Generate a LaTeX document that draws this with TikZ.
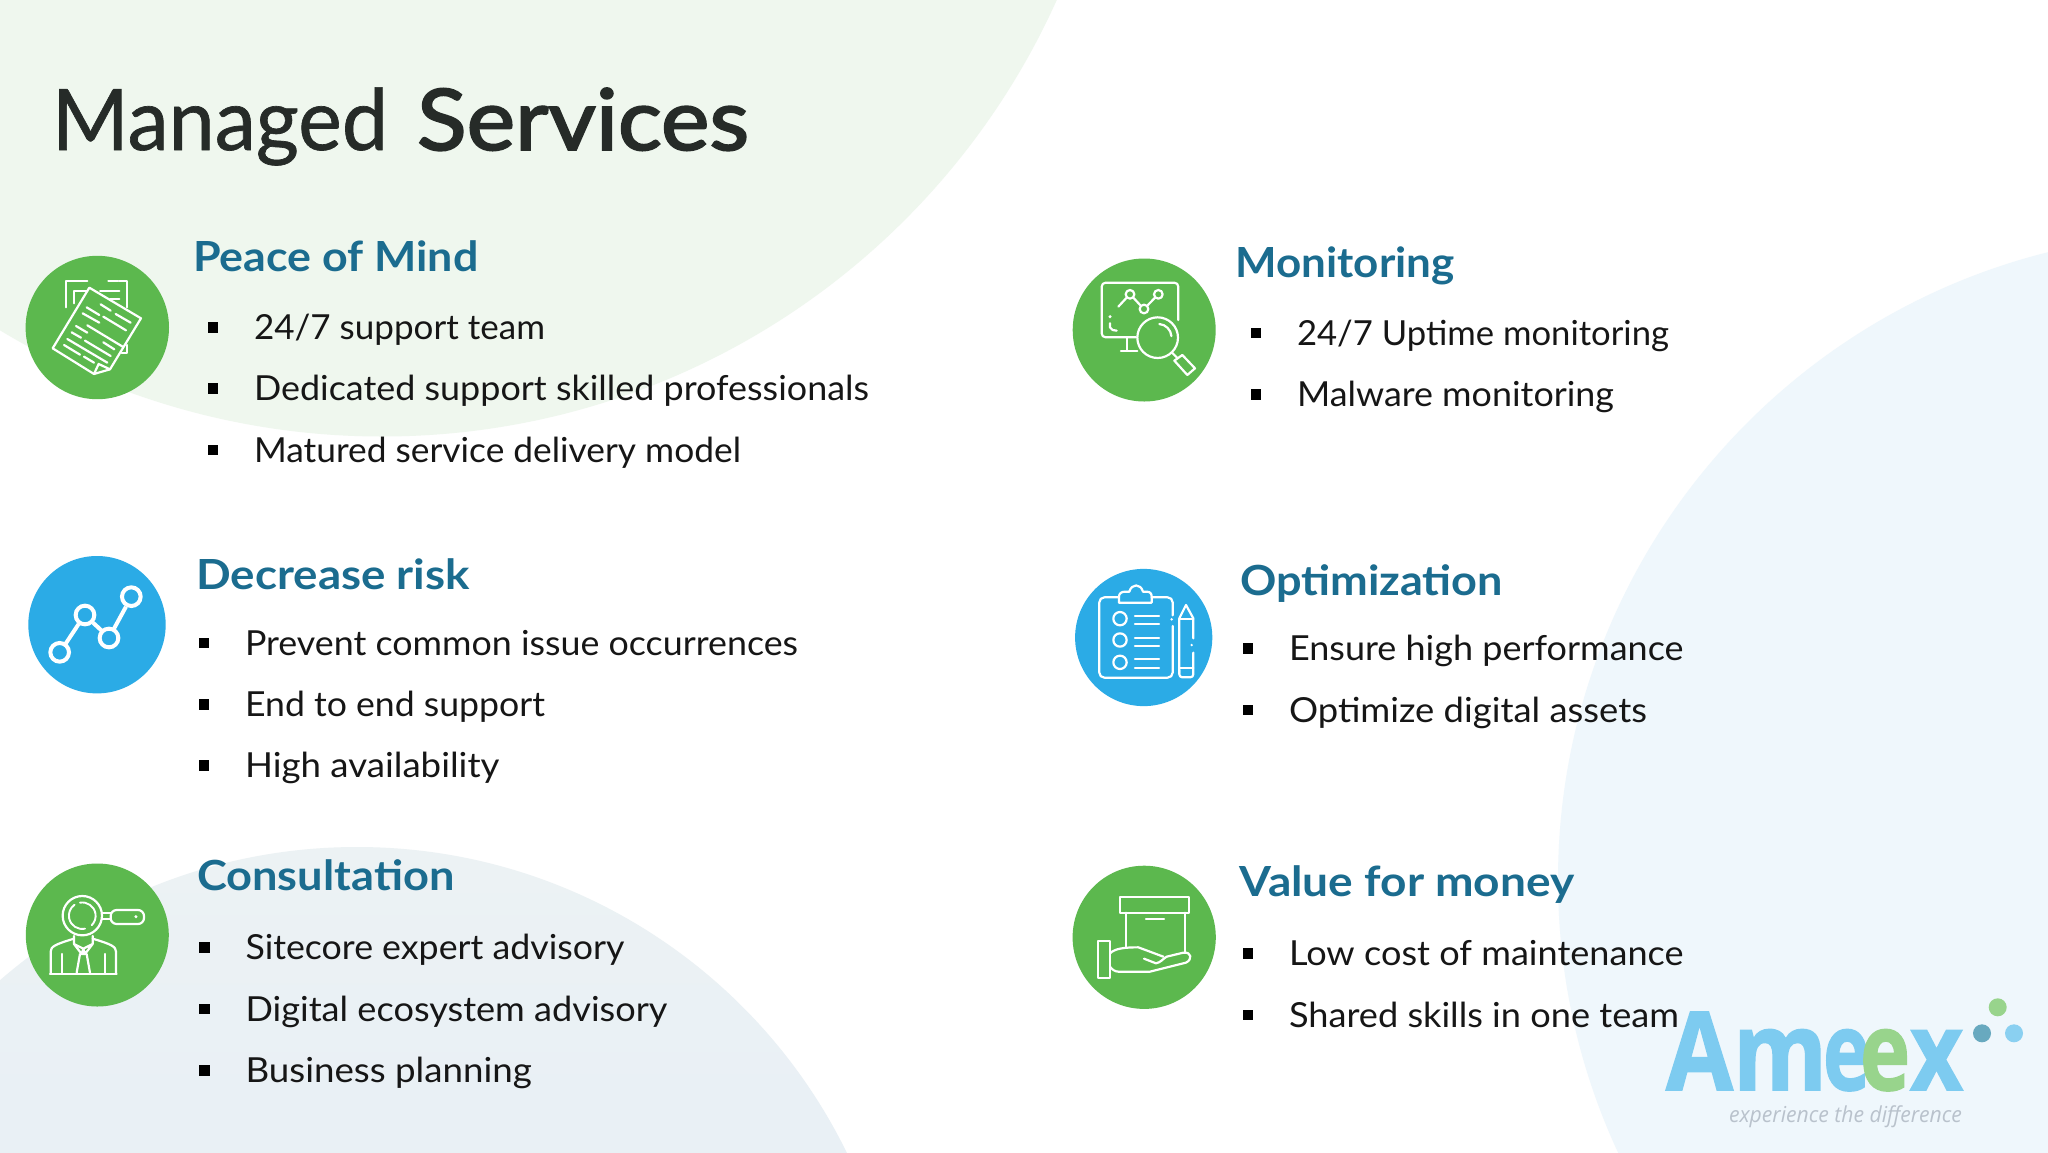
\documentclass[tikz,border=0pt]{standalone}
\usepackage{graphicx}
\usepackage{fontspec}
\setmainfont{Lato}
\newfontfamily\logofont{Open Sans}
\newfontfamily\logobold[BoldFeatures={FakeBold=1.5}]{Open Sans}
\definecolor{bgGreen}{HTML}{EFF7EE}
\definecolor{bgSlateTop}{HTML}{ECF2F4}
\definecolor{bgSlate}{HTML}{E0EAF8}
\definecolor{bgBlue}{HTML}{EFF7FC}
\definecolor{iconGreen}{HTML}{5CB84E}
\definecolor{iconBlue}{HTML}{2BABE6}
\definecolor{headTeal}{HTML}{1B6C8F}
\definecolor{titleInk}{HTML}{262B28}
\definecolor{bodyInk}{HTML}{161616}
\definecolor{logoBlue}{HTML}{7DCBF0}
\definecolor{logoGreen}{HTML}{98D48C}
\definecolor{logoDark}{HTML}{68A9BF}
\definecolor{logoGrey}{HTML}{B9C2CC}
\newsavebox\fitbox
\newcommand\fitw[2]{\sbox\fitbox{#2}\pgfmathsetmacro\fitsc{#1/\wd\fitbox}\scalebox{\fitsc}[1]{\usebox\fitbox}}
\newfontfamily\titlemid[FakeBold=0.8]{Lato}
\newfontfamily\titlebold[FakeBold=2.2]{Lato}
\usetikzlibrary{calc}
\tikzset{
  txt/.style={inner sep=0pt,outer sep=0pt,anchor=base west},
  ico/.style={draw=white,line width=2.2pt,line cap=round,line join=round},
  thin ico/.style={draw=white,line width=1.9pt,line cap=round,line join=round},
  badge/.style={circle,inner sep=0pt,minimum size=#1}
}
% name, x, baseline, width, text
\newcommand\svcitem[5]{\node[txt,text=bodyInk] (#1) at (#2,#3) {\fitw{#4}{\fontsize{34.5}{40}\selectfont #5}};
  \fill[black] ($(#1.base west)+(-41pt,12pt)$) ++(-5.2pt,-5.2pt) rectangle ++(10.4pt,10.4pt);}
\newcommand\svchead[5]{\node[txt,text=headTeal] (#1) at (#2,#3) {\fitw{#4}{\fontsize{41.5}{46}\selectfont\bfseries #5}};}
\begin{document}
\begin{tikzpicture}[x=1pt,y=-1pt]
\useasboundingbox (0,0) rectangle (2048,1152);
\clip (0,0) rectangle (2048,1152);
% background discs
\fill[white] (0,0) rectangle (2048,1152);
\fill[bgGreen] (382,-303) circle[radius=739.5];
\shade[top color=bgSlateTop,bottom color=bgSlate] (357,1392) circle[radius=545];
\fill[bgBlue] (2205,880) circle[radius=647];
% title
\node[txt,text=titleInk] (titleA) at (52,150) {\fitw{336}{\fontsize{85}{90}\titlemid Managed}};
\node[txt,text=titleInk] (titleB) at (417,150) {\fitw{332}{\fontsize{85}{90}\titlebold Services}};
% badges
\node[badge=143.4pt,fill=iconGreen] (b1) at (97.3,327.5) {};
\node[badge=137.4pt,fill=iconBlue] (b2) at (97,624.7) {};
\node[badge=143pt,fill=iconGreen] (b3) at (97.3,935) {};
\node[badge=143pt,fill=iconGreen] (b4) at (1144.2,330) {};
\node[badge=137.2pt,fill=iconBlue] (b5) at (1143.7,637.5) {};
\node[badge=143.2pt,fill=iconGreen] (b6) at (1144.2,937.3) {};
% icon 1: papers
\begin{scope}[x=.3333pt,y=-.3333pt,shift={(0pt,-220pt)}]
 \draw[ico] (262,183)--(197,183)--(197,262);
 \draw[ico] (325,183)--(355,183) (358,183)--(380,183)--(380,262) (380,375)--(380,400)--(365,400);
 \draw[thin ico] (222,250)--(222,212)--(262,212) (300,212)--(358,212) (330,238)--(358,238);
 \draw[ico] (268,203)--(423,295)--(330,448)--(282,462)--(158,385)--cycle;
 \draw[ico] (282,462)--(296,432)--(330,448);
 \draw[ico] (302,253)--(332,272) (347,282)--(392,308) (260,262)--(298,285) (248,280)--(298,308)
   (310,290)--(378,331) (228,318)--(262,338) (262,316)--(368,380) (215,337)--(243,353)
   (255,362)--(332,408) (310,367)--(343,388) (202,357)--(322,428) (192,375)--(240,404) (252,410)--(282,428);
\end{scope}
% icon 2: trend
\begin{scope}[x=.3333pt,y=-.3333pt,shift={(0pt,-540pt)}]
 \tikzset{tr/.style={draw=white,line width=4pt}}
 \draw[tr] (197,311)--(236,252) (279,248)--(304,271) (342,266)--(378,200);
 \draw[tr] (179,337) circle[radius=28] (255,225) circle[radius=28] (327,294) circle[radius=28] (394,170) circle[radius=28];
\end{scope}
% icon 3: consultant
\begin{scope}[x=.3333pt,y=-.3333pt,shift={(0pt,-850pt)}]
 \draw[ico] (247,197) circle[radius=59];
 \draw[thin ico] (240,158) arc[start angle=-100,end angle=45,radius=40];
 \draw[thin ico] (255,236) arc[start angle=78,end angle=235,radius=40];
 \draw[ico] (306,190)--(332,190) (306,208)--(332,208);
 \draw[ico,rounded corners=6pt] (332,180)--(432,180)--(432,222)--(332,222)--cycle;
 \fill[white] (408,200) circle[radius=5];
 \draw[ico] (150,371)--(350,371);
 \draw[ico] (152,371)--(152,305) .. controls (152,290) and (165,283) .. (222,266);
 \draw[ico] (348,371)--(348,305) .. controls (348,290) and (335,283) .. (278,266);
 \draw[ico] (185,371)--(185,312) (315,371)--(315,312);
 \draw[ico] (222,258)--(222,282)--(245,312)--(250,296)--(222,282) (278,258)--(278,282)--(255,312)--(250,296)--(278,282);
 \draw[ico] (245,312)--(255,312) (240,312)--(230,368) (260,312)--(270,368);
\end{scope}
% icon 4: monitoring
\begin{scope}[x=.3333pt,y=-.3333pt,shift={(1050pt,-240pt)}]
 \draw[ico,rounded corners=4pt] (385,240)--(385,128)--(155,128)--(155,292)--(258,292);
 \draw[ico] (232,295)--(232,332) (213,332)--(262,332);
 \draw[ico] (205,200)--(231,172) (249,172)--(273,198) (291,198)--(316,172);
 \draw[ico] (240,163) circle[radius=13] (282,207) circle[radius=13] (325,163) circle[radius=13];
 \fill[white] (180,230) circle[radius=5];
 \draw[ico] (180,250)--(180,262) -- (188,270)--(200,272);
 \draw[ico] (323,293) circle[radius=61];
 \draw[ico] (328,252) arc[start angle=-85,end angle=-5,radius=40];
 \draw[ico] (366,338)--(383,355);
 \draw[ico] (373,362)--(397,345)--(435,385)--(412,405)--cycle;
\end{scope}
% icon 5: checklist
\begin{scope}[x=.3333pt,y=-.3333pt,shift={(1050pt,-550pt)}]
 \draw[ico,rounded corners=5pt] (207,142)--(148,142)--(148,383)--(368,383)--(368,228);
 \draw[ico,rounded corners=5pt] (305,142)--(368,142)--(368,196);
 \fill[white] (365,208) circle[radius=4];
 \draw[ico] (207,158)--(207,140) .. controls (207,130) and (215,125) .. (225,125) -- (238,125)
    .. controls (245,100) and (272,100) .. (279,125) -- (290,125) .. controls (300,125) and (305,130) .. (305,140) -- (305,158)--cycle;
 \draw[ico] (210,206) circle[radius=20] (210,270) circle[radius=20] (210,337) circle[radius=20];
 \draw[ico] (255,197)--(327,197) (255,222)--(327,222) (255,263)--(327,263) (255,288)--(327,288) (255,328)--(327,328) (255,355)--(327,355);
 \draw[ico] (430,265)--(430,205)--(408,165)--(388,205)--(388,370);
 \draw[ico,rounded corners=3pt] (388,360)--(388,382)--(430,382)--(430,308);
 \draw[ico] (388,207)--(430,207) (388,355)--(430,355);
 \fill[white] (425,285) circle[radius=4];
\end{scope}
% icon 6: box in hand
\begin{scope}[x=.3333pt,y=-.3333pt,shift={(1050pt,-850pt)}]
 \draw[ico] (210,142) rectangle (418,188);
 \draw[ico] (228,188)--(228,290) (405,188)--(405,305);
 \draw[ico] (288,207)--(342,207);
 \draw[ico] (143,272) rectangle (180,383);
 \draw[ico] (180,310) .. controls (195,295) and (225,292) .. (265,292) -- (340,320);
 \draw[ico] (282,326)--(318,340) .. controls (332,338) and (340,325) .. (350,320) -- (400,308)
   .. controls (425,305) and (428,328) .. (408,338) -- (300,365) -- (205,365) .. controls (195,365) and (185,358) .. (180,350);
\end{scope}
% left column
\svchead{h1}{193}{271}{285.5}{Peace of Mind}
\svcitem{t11}{254}{339.5}{291}{24/7 support team}
\svcitem{t12}{254}{400.5}{615}{Dedicated support skilled professionals}
\svcitem{t13}{254}{462}{487}{Matured service delivery model}
\svchead{h2}{196.5}{589}{273.5}{Decrease risk}
\svcitem{t21}{245}{655}{553}{Prevent common issue occurrences}
\svcitem{t22}{245}{716.5}{300}{End to end support}
\svcitem{t23}{245}{777.5}{254.5}{High availability}
\svchead{h3}{197}{890.5}{257.5}{Consultation}
\svcitem{t31}{245.5}{959.5}{379}{Sitecore expert advisory}
\svcitem{t32}{245.5}{1021}{422}{Digital ecosystem advisory}
\svcitem{t33}{245.5}{1082.5}{286.5}{Business planning}
% right column
\svchead{h4}{1235.5}{277}{219}{Monitoring}
\svcitem{t41}{1297}{345}{372}{24/7 Uptime monitoring}
\svcitem{t42}{1297}{406.5}{317}{Malware monitoring}
\svchead{h5}{1240}{595}{263}{Optimization}
\svcitem{t51}{1289}{660.5}{394.5}{Ensure high performance}
\svcitem{t52}{1289}{722}{358}{Optimize digital assets}
\svchead{h6}{1239.5}{896.5}{335}{Value for money}
\svcitem{t61}{1289}{965.5}{394.5}{Low cost of maintenance}
\svcitem{t62}{1289}{1027}{390}{Shared skills in one team}
% logo
\node[txt,text=logoBlue] (logoA) at (1666,1090) {\fitw{67}{\fontsize{109}{115}\logobold\bfseries A}};
\node[txt,text=logoBlue] (logoM) at (1733,1090) {\fitw{94}{\fontsize{109}{115}\logobold\bfseries m}};
\node[txt,text=logoBlue] (logoE) at (1823,1090) {\fitw{47}{\fontsize{109}{115}\logobold\bfseries e}};
\node[txt,text=logoGreen] (logoEE) at (1860,1090) {\fitw{50}{\fontsize{109}{115}\logobold\bfseries e}};
\node[txt,text=logoBlue] (logoX) at (1910,1090) {\fitw{53}{\fontsize{109}{115}\logobold\bfseries x}};
\node[txt,text=logoGrey] (logoTag) at (1729,1122) {\fitw{233}{\fontsize{22}{26}\logofont\itshape experience the difference}};
\fill[logoGreen] (1997.7,1007.3) circle[radius=9];
\fill[logoDark] (1982,1033.3) circle[radius=9];
\fill[logoBlue!90!white] (2014,1033.3) circle[radius=9];
\end{tikzpicture}
\end{document}
